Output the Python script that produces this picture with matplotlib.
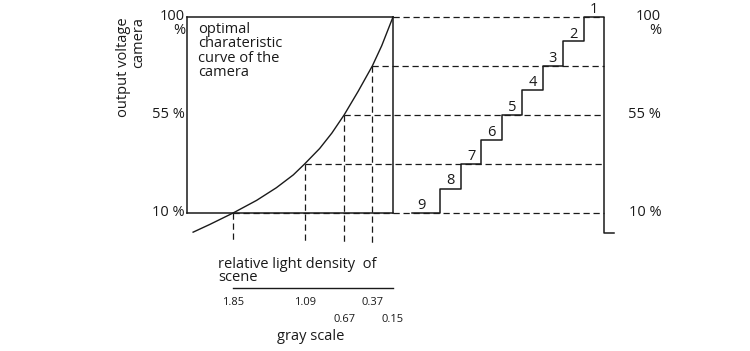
import matplotlib.pyplot as plt
import numpy as np

plt.rcParams['font.family'] = ['Open Sans', 'DejaVu Sans']

# characteristic curve: relative light density vs output voltage (%)
curve_density = [2.275, 2.10, 1.85, 1.60, 1.39, 1.21, 1.09, 0.93, 0.80, 0.67, 0.52, 0.37, 0.27, 0.15]
curve_voltage = [1.2, 4.7, 10.0, 15.8, 21.6, 27.5, 32.5, 39.6, 46.7, 55.0, 65.9, 77.5, 86.8, 100.0]

# gray scale densities and their output levels
gray_density = [1.85, 1.09, 0.67, 0.37, 0.15]
gray_voltage = [10.0, 32.5, 55.0, 77.5, 100.0]
gray_labels = ['1.85', '1.09', '0.67', '0.37', '0.15']
label_row = [0, 0, 1, 0, 1]

# 9 step staircase on the right
step_numbers = [9, 8, 7, 6, 5, 4, 3, 2, 1]
step_levels = [10.0, 21.25, 32.5, 43.75, 55.0, 66.25, 77.5, 88.75, 100.0]
step_edges = [-0.4, 1, 2, 3, 4, 5, 6, 7, 8, 9]

axis_ticks = [10, 55, 100]
axis_labels = ['10 %', '55 %', '100\n%']

ink = '#1a1a1a'
fs = 10.5

fig = plt.figure(figsize=(7.5, 3.51), dpi=100)
ax = fig.add_axes([187 / 750, 138 / 351, 206 / 750, 196 / 351])
ax.set_xlim(2.34, 0.15)
ax.set_ylim(10, 100)
ax.set_xticks([])
ax.set_yticks([])
for sp in ax.spines.values():
    sp.set_color(ink)
    sp.set_linewidth(1.1)

ax2 = fig.add_axes([420 / 750, 138 / 351, 184 / 750, 196 / 351])
ax2.set_xlim(0, 9)
ax2.set_ylim(10, 100)
ax2.axis('off')

# where the right rail (end of staircase) sits in density units
rail_d = ax.transData.inverted().transform(ax2.transData.transform((step_edges[-1], 0)))[0]

dash = (0, (5, 3))
ax.plot(curve_density, curve_voltage, color=ink, lw=1.0, clip_on=False)

# dashed projections
for d, v in zip(gray_density, gray_voltage):
    ax.plot([d, rail_d], [v, v], color=ink, lw=0.9, ls=dash, clip_on=False, zorder=1)
    if d > gray_density[-1]:
        ax.plot([d, d], [v, -3.8], color=ink, lw=0.9, ls=dash, clip_on=False, zorder=1)

# staircase + rail
sx = [step_edges[0]]
sy = [step_levels[0]]
for i, lv in enumerate(step_levels):
    sx += [step_edges[i + 1]]
    sy += [lv]
    if i + 1 < len(step_levels):
        sx += [step_edges[i + 1]]
        sy += [step_levels[i + 1]]
sx += [step_edges[-1], step_edges[-1] + 0.5]
sy += [0.7, 0.7]
ax2.plot(sx, sy, color=ink, lw=1.1, clip_on=False, zorder=3)
for i, n in enumerate(step_numbers):
    xc = (step_edges[i] + step_edges[i + 1]) / 2
    if i == 0:
        xc -= 0.25
    ax2.text(xc, step_levels[i], str(n),
             ha='center', va='bottom', fontsize=fs, color=ink)

# axis labels left and right
for t, lab in zip(axis_ticks, axis_labels):
    if '\n' in lab:
        ax.text(2.36, 103.5, lab, ha='right', va='top', ma='right', fontsize=fs,
                color=ink, linespacing=0.85)
        ax2.text(11.8, 103.5, lab, ha='right', va='top', ma='right', fontsize=fs,
                 color=ink, linespacing=0.85)
    else:
        ax.text(2.36, t, lab, ha='right', va='center', fontsize=fs, color=ink)
        ax2.text(11.8, t, lab, ha='right', va='center', fontsize=fs, color=ink)

fig.text(131 / 750, (351 - 17) / 351, 'output voltage\ncamera', rotation=90,
         ha='center', va='top', ma='right', fontsize=fs, color=ink, linespacing=0.95)

ax.text(0.053, 0.975, 'optimal\ncharateristic\ncurve of the\ncamera', transform=ax.transAxes,
        ha='left', va='top', fontsize=fs, color=ink, linespacing=0.95)

# density scale below
ax.text(2.01, -10.0, 'relative light density  of\nscene', ha='left', va='top',
        fontsize=fs, color=ink, linespacing=0.9)
ax.plot([gray_density[0], gray_density[-1]], [-24.4, -24.4], color=ink, lw=1.0, clip_on=False)
for d, lab, r in zip(gray_density, gray_labels, label_row):
    ax.text(d, -30.9 - 7.8 * r, lab, ha='center', va='center', fontsize=8, color=ink)
ax.text(1.02, -46.5, 'gray scale', ha='center', va='center', fontsize=fs, color=ink)

fig.savefig('out.png', dpi=100)
